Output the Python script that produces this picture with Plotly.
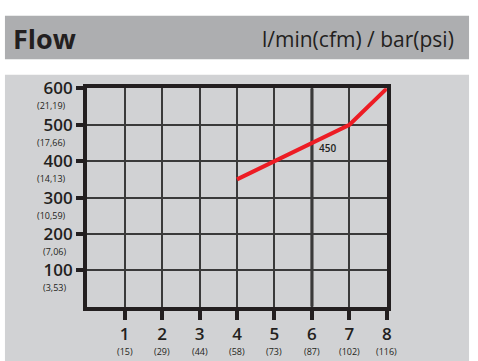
import plotly.graph_objects as go

pressure_bar = [4, 5, 6, 7, 8]
flow_lmin = [350, 400, 450, 500, 600]

x_ticks = [1, 2, 3, 4, 5, 6, 7, 8]
x_psi = ["(15)", "(29)", "(44)", "(58)", "(73)", "(87)", "(102)", "(116)"]
y_ticks = [100, 200, 300, 400, 500, 600]
y_cfm = ["(3,53)", "(7,06)", "(10,59)", "(14,13)", "(17,66)", "(21,19)"]

W, H = 478, 361
FONT = "Open Sans"
DARK = "#231f20"

x0, x1 = 88, 391
y_top, y_bot = 79, 305

fig = go.Figure()
fig.add_trace(go.Scatter(x=pressure_bar, y=flow_lmin, mode="lines",
                         line=dict(color="#ed1c24", width=4), hoverinfo="skip"))

shapes = [
    dict(type="rect", xref="paper", yref="paper", x0=5/W, x1=474/W, y0=1-49/H, y1=1-4/H,
         fillcolor="#adaeb0", line=dict(width=0), layer="below"),
    dict(type="rect", xref="paper", yref="paper", x0=5/W, x1=474/W, y0=0, y1=1-65/H,
         fillcolor="#d1d2d4", line=dict(width=0), layer="below"),
    dict(type="line", xref="x", yref="y", x0=6, x1=6, y0=0, y1=600,
         line=dict(color=DARK, width=3), layer="below"),
]

annotations = [
    dict(text="<b>Flow</b>", xref="paper", yref="paper", x=11/W, y=1-27/H,
         xanchor="left", yanchor="middle", showarrow=False,
         font=dict(family=FONT, size=27, color=DARK)),
    dict(text="l/min(cfm) / bar(psi)", xref="paper", yref="paper", x=461/W, y=1-28/H,
         xanchor="right", yanchor="middle", showarrow=False,
         font=dict(family=FONT, size=21, color=DARK)),
    dict(text="450", xref="x", yref="y", x=6.13, y=437, xanchor="left", yanchor="middle",
         showarrow=False, font=dict(family=FONT, size=10, color=DARK, weight=600)),
    dict(text="600", xref="x", yref="y", x=8.12, y=600, xanchor="left", yanchor="middle",
         showarrow=False, font=dict(family=FONT, size=10, color=DARK, weight=600)),
]
for v, t in zip(y_ticks, y_cfm):
    annotations.append(dict(text=t, xref="paper", yref="y", x=69/W, y=v, yshift=-17.5,
                            xanchor="right", yanchor="middle", showarrow=False,
                            font=dict(family=FONT, size=9, color=DARK)))
for v, t in zip(x_ticks, x_psi):
    annotations.append(dict(text=t, xref="x", yref="paper", x=v, y=1-351.5/H,
                            xanchor="center", yanchor="middle", showarrow=False,
                            font=dict(family=FONT, size=9, color=DARK)))

axis_common = dict(showgrid=True, gridcolor="#3a3a3a", gridwidth=1.5,
                   showline=True, linecolor=DARK, linewidth=4, mirror=True,
                   ticks="outside", tickwidth=3.5, tickcolor=DARK, zeroline=False,
                   fixedrange=True,
                   tickfont=dict(family=FONT, size=17, color=DARK, weight=600))

fig.update_layout(
    width=W, height=H, margin=dict(l=0, r=0, t=0, b=0),
    paper_bgcolor="white", plot_bgcolor="white", showlegend=False,
    shapes=shapes, annotations=annotations,
    xaxis=dict(domain=[x0/W, x1/W], range=[0, 8], tickvals=x_ticks,
               ticktext=[str(v) for v in x_ticks], ticklen=9, **axis_common),
    yaxis=dict(domain=[1-y_bot/H, 1-y_top/H], range=[0, 600], tickvals=y_ticks,
               ticktext=[str(v) for v in y_ticks], ticklen=7, **axis_common),
)

fig.write_html("out.html", config={"displayModeBar": False},
               post_script="document.body.style.margin='0';document.body.style.overflow='hidden';")
